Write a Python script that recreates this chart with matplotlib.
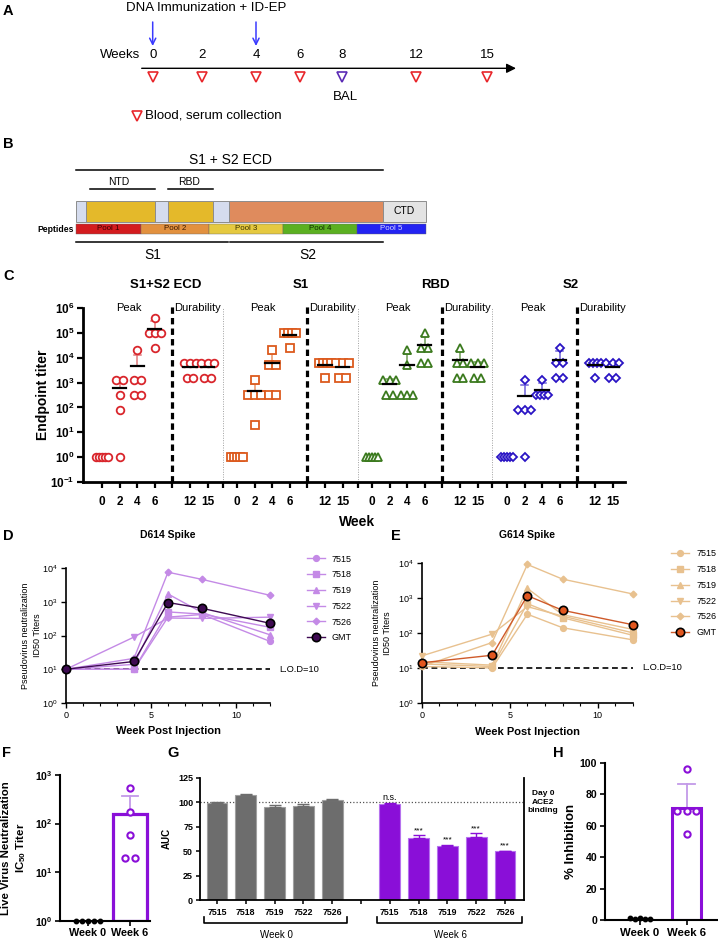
import numpy as np
import matplotlib.pyplot as plt
from matplotlib.patches import Rectangle
from matplotlib.ticker import FixedLocator, FuncFormatter, NullLocator
import matplotlib.transforms as mtransforms

plt.rcParams['font.family'] = ['Liberation Sans', 'DejaVu Sans']
plt.rcParams['mathtext.fontset'] = 'custom'
plt.rcParams['mathtext.rm'] = 'Liberation Sans'
plt.rcParams['mathtext.bf'] = 'Liberation Sans:bold'
plt.rcParams['mathtext.it'] = 'Liberation Sans:italic'

# ---------------- data ----------------
# A: study timeline
timeline_weeks = ['0', '2', '4', '6', '8', '12', '15']
immunization_weeks = ['0', '4']
bal_week = '8'

# B: spike schematic
domain_labels = ['', '', '', '', '', '', 'CTD']
pool_labels = ['Pool 1', 'Pool 2', 'Pool 3', 'Pool 4', 'Pool 5']

# C: endpoint titers per antigen, weeks 0, 2, 4, 6, 12, 15 (5 animals)
c_antigens = ['S1+S2 ECD', 'S1', 'RBD', 'S2']
c_weeks = ['0', '2', '4', '6', '12', '15']
titer_ecd = [[1, 1, 1, 1, 1], [1250, 1250, 312, 78, 1], [20000, 1250, 1250, 312, 312],
             [400000, 100000, 100000, 100000, 25000], [6250, 6250, 6250, 1560, 1560],
             [6250, 6250, 6250, 1560, 1560]]
titer_s1 = [[1, 1, 1, 1, 1], [1250, 312, 312, 312, 20], [20000, 5000, 5000, 312, 312],
            [100000, 100000, 100000, 100000, 25000], [6250, 6250, 6250, 6250, 1560],
            [6250, 6250, 6250, 1560, 1560]]
titer_rbd = [[1, 1, 1, 1, 1], [1250, 1250, 1250, 312, 312], [20000, 5000, 312, 312, 312],
             [100000, 25000, 25000, 6250, 6250], [25000, 6250, 6250, 1560, 1560],
             [6250, 6250, 6250, 1560, 1560]]
titer_s2 = [[1, 1, 1, 1, 1], [1250, 78, 78, 78, 1], [1250, 312, 312, 312, 312],
            [25000, 6250, 6250, 1560, 1560], [6250, 6250, 6250, 6250, 1560],
            [6250, 6250, 6250, 1560, 1560]]

# D/E: pseudovirus neutralization ID50
nab_weeks = [0, 4, 6, 8, 12]
animal_ids = ['7515', '7518', '7519', '7522', '7526']
d614_titers = [[10, 10, 350, 420, 67],
               [10, 10, 500, 430, 175],
               [10, 14, 1700, 480, 105],
               [10, 90, 330, 320, 350],
               [10, 21, 7500, 4600, 1550]]
d614_gmt = [10, 17, 950, 640, 230]
g614_titers = [[11, 10, 340, 140, 63],
               [13, 11, 680, 270, 85],
               [15, 12, 1850, 330, 125],
               [22, 92, 560, 300, 100],
               [11, 53, 8900, 3400, 1280]]
g614_gmt = [14, 23, 1150, 440, 170]
lod = 10

# F: live virus neutralization IC50
fh_groups = ['Week 0', 'Week 6']
live_wk0 = [1, 1, 1, 1, 1]
live_wk6 = [530, 175, 58, 20, 20]

# G: ACE2 binding AUC
auc_wk0 = [98.9, 107, 94.8, 96, 102]
auc_wk0_err = [1, 1.5, 2, 2.5, 1.5]
auc_wk6 = [97.8, 63, 55.5, 64, 50]
auc_wk6_err = [1, 3, 1, 4, 0.5]
auc_sig = ['n.s.', '***', '***', '***', '***']

# H: % inhibition
inhib_wk0 = [1.0, 0.5, 1.5, 0.8, 0.6]
inhib_wk6 = [96, 69, 69, 69, 54.5]

# ---------------- layout helpers ----------------
W, H = 718, 940
fig = plt.figure(figsize=(W / 100, H / 100), dpi=100)


def box(l, t, r, b):
    return [l / W, 1 - b / H, (r - l) / W, (b - t) / H]


def swarm(vals, step, maxw=0.9):
    vals = np.asarray(vals, float)
    offs = np.zeros(len(vals))
    for v in np.unique(vals):
        idx = np.where(vals == v)[0]
        n = len(idx)
        if n > 1:
            s = min(step, maxw / (n - 1))
            offs[idx] = (np.arange(n) - (n - 1) / 2) * s
    return offs


def style_spines(ax, lw):
    ax.spines['top'].set_visible(False)
    ax.spines['right'].set_visible(False)
    ax.spines['left'].set_linewidth(lw)
    ax.spines['bottom'].set_linewidth(lw)


bold_pow = FuncFormatter(lambda v, p: r'$\mathbf{10^{%d}}$' % round(np.log10(v)))
plain_pow = FuncFormatter(lambda v, p: r'$10^{%d}$' % round(np.log10(v)))

purple = '#8a0fd8'

# ---------------- overlay for schematics ----------------
ov = fig.add_axes([0, 0, 1, 1])
ov.set_xlim(0, W)
ov.set_ylim(H, 0)
ov.axis('off')

letters = ['A', 'B', 'C', 'D', 'E', 'F', 'G', 'H']
letter_xy = [(3, 11), (3, 144), (3, 276), (3, 536), (391, 536), (2, 753), (167, 753), (553, 753)]
for lab, (x, y) in zip(letters, letter_xy):
    ov.text(x, y, lab, fontsize=10.5, fontweight='bold', ha='left', va='center')

# A: timeline
tl_x = [152.7, 201.7, 256, 300, 341.7, 416, 487.3]
ov.text(206, 8, 'DNA Immunization + ID-EP', ha='center', va='center', fontsize=9.5)
for w in immunization_weeks:
    x = tl_x[timeline_weeks.index(w)]
    ov.annotate('', xy=(x, 46), xytext=(x, 22),
                arrowprops=dict(arrowstyle='->', color='#3a3aff', lw=1.1,
                                mutation_scale=11, shrinkA=0, shrinkB=0))
ov.text(140, 55, 'Weeks', ha='right', va='center', fontsize=9.5)
ov.annotate('', xy=(516, 68.3), xytext=(141.7, 68.3),
            arrowprops=dict(arrowstyle='-|>', color='black', lw=1.0,
                            mutation_scale=14, shrinkA=0, shrinkB=0))
for w, x in zip(timeline_weeks, tl_x):
    ov.text(x, 55, w, ha='center', va='center', fontsize=9.5)
    c = '#5b2bb5' if w == bal_week else '#e8262b'
    ov.plot(x, 76.5, marker='v', ms=6.5, mfc='white', mec=c, mew=1.2)
ov.text(tl_x[timeline_weeks.index(bal_week)] + 4, 97, 'BAL', ha='center', va='center', fontsize=9.5)
ov.plot(136.5, 116, marker='v', ms=6.5, mfc='white', mec='#e8262b', mew=1.2)
ov.text(145, 116, 'Blood, serum collection', ha='left', va='center', fontsize=9.5)

# B: spike schematic
dom_edges = [76, 86, 155, 168, 213, 229, 383, 426]
dom_colors = ['#d5dcee', '#e4b92a', '#d5dcee', '#e4b92a', '#d5dcee', '#df8b5d', '#e3e3e3']
for i, (lab, c) in enumerate(zip(domain_labels, dom_colors)):
    l, r = dom_edges[i], dom_edges[i + 1]
    ov.add_patch(Rectangle((l, 200.5), r - l, 21.5, fc=c, ec='#8c8c8c', lw=0.7))
    if lab:
        ov.text((l + r) / 2, 211, lab, ha='center', va='center', fontsize=7.5)
pool_edges = [76, 141, 209, 283, 357, 426]
pool_colors = ['#d41c1f', '#e2913f', '#e5c940', '#5bb021', '#2323f2']
pool_text = ['#3a0000', '#3a1a00', '#3a3000', '#0f2a00', '#d8d8ff']
for i, (lab, c, tc) in enumerate(zip(pool_labels, pool_colors, pool_text)):
    l, r = pool_edges[i], pool_edges[i + 1]
    ov.add_patch(Rectangle((l, 223.5), r - l, 10.5, fc=c, ec='#666666', lw=0.3))
    ov.text((l + r) / 2, 229, lab, ha='center', va='center', fontsize=5.7, color=tc)
ov.text(74, 229, 'Peptides', ha='right', va='center', fontsize=6.2, fontweight='bold')
ov.plot([76, 383], [170, 170], color='black', lw=1.1)
ov.text(230, 160, 'S1 + S2 ECD', ha='center', va='center', fontsize=10)
ov.plot([90, 155], [189, 189], color='black', lw=1.1)
ov.text(118.5, 182, 'NTD', ha='center', va='center', fontsize=7.5)
ov.plot([168, 213], [189, 189], color='black', lw=1.1)
ov.text(189, 182, 'RBD', ha='center', va='center', fontsize=7.5)
ov.plot([76, 228], [242, 242], color='black', lw=1.1)
ov.plot([230, 383], [242, 242], color='black', lw=1.1)
ov.text(153, 255, 'S1', ha='center', va='center', fontsize=10)
ov.text(308, 255, 'S2', ha='center', va='center', fontsize=10)

# ---------------- C: endpoint titers ----------------
axC = fig.add_axes(box(83, 308, 625, 482))
axC.set_yscale('log')
axC.set_ylim(0.1, 1e6)
axC.set_xlim(-1.08, 29.72)
style_spines(axC, 2.0)
group_step = 7.67
c_slots = [0, 1, 2, 3, 5, 6]
c_data = [titer_ecd, titer_s1, titer_rbd, titer_s2]
c_colors = ['#d9262c', '#dc5a1e', '#3b7a1e', '#2a14c4']
c_ecolors = ['#e07a7c', '#e99468', '#6d9a55', '#6e62d8']
c_markers = ['o', 's', '^', 'D']
c_ms = [5.5, 5.2, 5.5, 4.3]
trans_c = mtransforms.blended_transform_factory(axC.transData, axC.transAxes)
for g, (name, data, col, ecol, mk, ms) in enumerate(zip(c_antigens, c_data, c_colors,
                                                       c_ecolors, c_markers, c_ms)):
    x0 = g * group_step
    for slot, vals in zip(c_slots, data):
        xc = x0 + slot
        vals = np.asarray(vals, float)
        m = vals.mean()
        sd = vals.std(ddof=1)
        if sd > 0:
            axC.plot([xc, xc], [m, m + sd], color=ecol, lw=1.1, zorder=2)
            axC.plot([xc - 0.2, xc + 0.2], [m + sd] * 2, color=ecol, lw=1.1, zorder=2)
            axC.plot([xc - 0.38, xc + 0.38], [m, m], color='black', lw=1.6, zorder=4)
        axC.plot(xc + swarm(vals, 0.38, maxw=0.7), vals, ls='none', marker=mk, ms=ms,
                 mfc='white', mec=col, mew=1.3, zorder=3, clip_on=False)
    axC.axvline(x0 + 4, ymin=0, ymax=1.02, color='black', lw=2.3, ls=(0, (2.0, 1.3)),
                clip_on=False, zorder=1)
    if g < 3:
        axC.axvline(x0 + 6.85, ymin=0, ymax=1.0, color='#a0a0a0', lw=0.7, ls=(0, (1, 1.5)),
                    zorder=1)
    axC.text(x0 + 1.5, 1.0, 'Peak', transform=trans_c, ha='center', va='center', fontsize=8)
    axC.text(x0 + 5.45, 1.0, 'Durability', transform=trans_c, ha='center', va='center',
             fontsize=8)
    axC.text(x0 + 3.6, 1.132, name, transform=trans_c, ha='center', va='center',
             fontsize=9.5, fontweight='bold')
c_ticks = [g * group_step + s for g in range(4) for s in c_slots]
axC.xaxis.set_major_locator(FixedLocator(c_ticks))
axC.set_xticklabels(c_weeks * 4, fontsize=8.5, fontweight='bold')
axC.xaxis.set_minor_locator(FixedLocator([g * group_step + 4 for g in range(4)] +
                                         [g * group_step + 6.85 for g in range(3)]))
axC.yaxis.set_major_locator(FixedLocator([10.0 ** k for k in range(-1, 7)]))
axC.yaxis.set_minor_locator(NullLocator())
axC.yaxis.set_major_formatter(bold_pow)
axC.tick_params(axis='y', labelsize=8.5, length=4, width=1.6, pad=2)
axC.tick_params(axis='x', which='major', length=4, width=1.6, pad=6)
axC.tick_params(axis='x', which='minor', length=4, width=1.6)
axC.set_ylabel('Endpoint titer', fontsize=10, fontweight='bold')
axC.yaxis.set_label_coords(-0.06, 0.5)
axC.text(0.505, -0.23, 'Week', transform=axC.transAxes, ha='center', va='center',
         fontsize=10, fontweight='bold')

# ---------------- D / E: pseudovirus neutralization ----------------
animal_markers = ['o', 's', '^', 'v', 'D']
animal_ms = [4.2, 4.2, 4.4, 4.4, 3.4]


def neut_panel(ax, titers, gmt, color, gmt_face, gmt_line, title, title_y, leg_xy, ylab_x):
    ax.set_yscale('log')
    ax.set_ylim(1, 1e4)
    ax.set_xlim(0, 12)
    style_spines(ax, 1.2)
    for vals, mk, ms, lab in zip(titers, animal_markers, animal_ms, animal_ids):
        ax.plot(nab_weeks, vals, color=color, marker=mk, ms=ms, lw=1.0, label=lab,
                clip_on=False, zorder=3)
    ax.plot(nab_weeks, gmt, color=gmt_line, marker='o', ms=6, mfc=gmt_face, mec='black',
            mew=1.2, lw=1.0, label='GMT', clip_on=False, zorder=5)
    ax.plot([0, 12], [lod, lod], color='black', lw=1.2, ls=(0, (3.5, 2.2)), zorder=2)
    ax.text(12.55, lod, 'L.O.D=%d' % lod, ha='left', va='center', fontsize=6.7)
    ax.yaxis.set_major_locator(FixedLocator([10.0 ** k for k in range(0, 5)]))
    ax.yaxis.set_minor_locator(NullLocator())
    ax.yaxis.set_major_formatter(plain_pow)
    ax.xaxis.set_major_locator(FixedLocator([0, 5, 10]))
    ax.xaxis.set_minor_locator(FixedLocator(list(range(0, 13))))
    ax.tick_params(axis='both', which='major', labelsize=6.5, length=3.5, width=1.0, pad=2.5)
    ax.tick_params(axis='x', which='minor', length=2.5, width=0.8)
    ax.set_ylabel('Pseudovirus neutralization\nID50 Titers', fontsize=6.5, linespacing=1.3)
    ax.yaxis.set_label_coords(ylab_x, 0.5)
    ax.text(0.5, -0.21, 'Week Post Injection', transform=ax.transAxes, ha='center',
            va='center', fontsize=8, fontweight='bold')
    ax.text(0.5, title_y, title, transform=ax.transAxes, ha='center', va='center',
            fontsize=7.5, fontweight='bold')
    ax.legend(loc='upper left', bbox_to_anchor=leg_xy, frameon=False, fontsize=6.5,
              handlelength=2.0, labelspacing=0.75, handletextpad=0.8, borderaxespad=0,
              borderpad=0)


axD = fig.add_axes(box(66, 568, 270, 703))
neut_panel(axD, d614_titers, d614_gmt, '#c48ae6', '#3e0a52', '#3e0a52', 'D614 Spike',
           1.244, (1.18, 1.10), -0.12)
axE = fig.add_axes(box(421.7, 562.7, 633, 703))
neut_panel(axE, g614_titers, g614_gmt, '#e8c18f', '#e2571f', '#cf5a2a', 'G614 Spike',
           1.197, (1.18, 1.095), -0.14)

# ---------------- F: live virus neutralization ----------------
axF = fig.add_axes(box(60, 775, 150, 920.7))
axF.set_yscale('log')
axF.set_ylim(1, 1e3)
axF.set_xlim(-0.667, 1.476)
style_spines(axF, 1.5)
m6 = np.mean(live_wk6)
sd6 = np.std(live_wk6, ddof=1)
axF.bar(1, m6 - 1, bottom=1, width=0.83, color='white', edgecolor=purple, lw=2.3, zorder=2)
axF.plot([1, 1], [m6, m6 + sd6], color='#c39ae8', lw=1.3, zorder=1)
axF.plot([0.82, 1.18], [m6 + sd6] * 2, color='#c39ae8', lw=1.3, zorder=1)
axF.plot(1 + swarm(live_wk6, 0.22), live_wk6, ls='none', marker='o', ms=4.5, mfc='white',
         mec=purple, mew=1.5, zorder=4)
axF.plot(0 + swarm(live_wk0, 0.14), live_wk0, ls='none', marker='o', ms=3.2, color='black',
         zorder=4, clip_on=False)
axF.yaxis.set_major_locator(FixedLocator([1, 10, 100, 1000]))
axF.yaxis.set_minor_locator(NullLocator())
axF.yaxis.set_major_formatter(bold_pow)
axF.set_xticks([0, 1])
axF.set_xticklabels(fh_groups, fontsize=7.8, fontweight='bold')
axF.tick_params(axis='both', labelsize=7.5, length=3.5, width=1.2, pad=2)
axF.tick_params(axis='x', labelsize=7.8)
axF.set_ylabel('Live Virus Neutralization\nIC$_{\\mathbf{50}}$ Titer', fontsize=8.2,
               fontweight='bold', linespacing=1.25)
axF.yaxis.set_label_coords(-0.36, 0.5)

# ---------------- G: ACE2 binding AUC ----------------
axG = fig.add_axes(box(200, 777.7, 524, 900))
axG.set_ylim(0, 125)
axG.set_xlim(-0.59, 10.66)
axG.spines['top'].set_visible(False)
for s in ['left', 'bottom', 'right']:
    axG.spines[s].set_linewidth(1.3)
g_pos0 = [0, 1, 2, 3, 4]
g_pos6 = [6, 7, 8, 9, 10]
axG.axhline(100, color='#555555', lw=0.9, ls=(0, (1, 1.6)), zorder=1)
axG.bar(g_pos0, auc_wk0, width=0.72, color='#6d6d6d', edgecolor='#a0a0a0', lw=0.8, zorder=2)
axG.errorbar(g_pos0, auc_wk0, yerr=[np.zeros(5), auc_wk0_err], fmt='none', ecolor='#6d6d6d',
             elinewidth=1, capsize=4, capthick=1, zorder=3)
axG.bar(g_pos6, auc_wk6, width=0.72, color=purple, edgecolor='#b672ee', lw=0.8, zorder=2)
axG.errorbar(g_pos6, auc_wk6, yerr=[np.zeros(5), auc_wk6_err], fmt='none', ecolor=purple,
             elinewidth=1, capsize=4, capthick=1, zorder=3)
for x, v, e, s in zip(g_pos6, auc_wk6, auc_wk6_err, auc_sig):
    if s == 'n.s.':
        axG.text(x, v + e + 1.5, s, ha='center', va='bottom', fontsize=6.5)
    else:
        axG.text(x, v + e + 1.5, s, ha='center', va='bottom', fontsize=6)
axG.set_xticks(g_pos0 + [5] + g_pos6)
axG.set_xticklabels(animal_ids + [''] + animal_ids, fontsize=6.3, fontweight='bold')
axG.set_yticks([0, 25, 50, 75, 100, 125])
axG.tick_params(axis='y', labelsize=6.5, length=3, width=1.1, pad=2)
axG.tick_params(axis='x', length=3, width=1.1, pad=3)
for lab in axG.get_yticklabels():
    lab.set_fontweight('bold')
axG.tick_params(axis='y', which='both', right=False)
axG.set_ylabel('AUC', fontsize=7, fontweight='bold')
axG.yaxis.set_label_coords(-0.086, 0.5)
axG.text(1.059, 0.80, 'Day 0\nACE2\nbinding', transform=axG.transAxes, ha='center',
         va='center', fontsize=6, fontweight='bold', linespacing=1.35)
trans_g = mtransforms.blended_transform_factory(axG.transData, axG.transAxes)
for (l, r), lab in zip([(-0.45, 4.51), (5.55, 10.58)], ['Week 0', 'Week 6']):
    axG.plot([l, l, r, r], [-0.14, -0.188, -0.188, -0.14], color='black', lw=1.2,
             transform=trans_g, clip_on=False)
    axG.text((l + r) / 2 + 0.05, -0.285, lab, transform=trans_g, ha='center', va='center',
             fontsize=7)

# ---------------- H: % inhibition ----------------
axH = fig.add_axes(box(605, 762.7, 717, 920))
axH.set_ylim(0, 100)
axH.set_xlim(-0.75, 1.65)
style_spines(axH, 1.5)
mh = np.mean(inhib_wk6)
sdh = np.std(inhib_wk6, ddof=1)
axH.bar(1, mh, width=0.61, color='white', edgecolor=purple, lw=2.2, zorder=2)
axH.plot([1, 1], [mh, mh + sdh], color='#c39ae8', lw=1.3, zorder=1)
axH.plot([0.82, 1.18], [mh + sdh] * 2, color='#c39ae8', lw=1.3, zorder=1)
axH.plot(1 + swarm(inhib_wk6, 0.2), inhib_wk6, ls='none', marker='o', ms=4.5, mfc='white',
         mec=purple, mew=1.5, zorder=4)
axH.plot(0 + swarm(np.ones(len(inhib_wk0)), 0.11), inhib_wk0, ls='none', marker='o',
         ms=3.2, color='black', zorder=4, clip_on=False)
axH.set_yticks([0, 20, 40, 60, 80, 100])
axH.set_xticks([0, 1])
axH.set_xticklabels(fh_groups, fontsize=8.2, fontweight='bold')
axH.tick_params(axis='y', labelsize=7.6, length=3.5, width=1.2, pad=2)
axH.tick_params(axis='x', length=3.5, width=1.2, pad=2)
for lab in axH.get_yticklabels():
    lab.set_fontweight('bold')
axH.set_ylabel('% Inhibition', fontsize=9.5, fontweight='bold')
axH.yaxis.set_label_coords(-0.25, 0.5)

fig.savefig('out.png', dpi=100)
